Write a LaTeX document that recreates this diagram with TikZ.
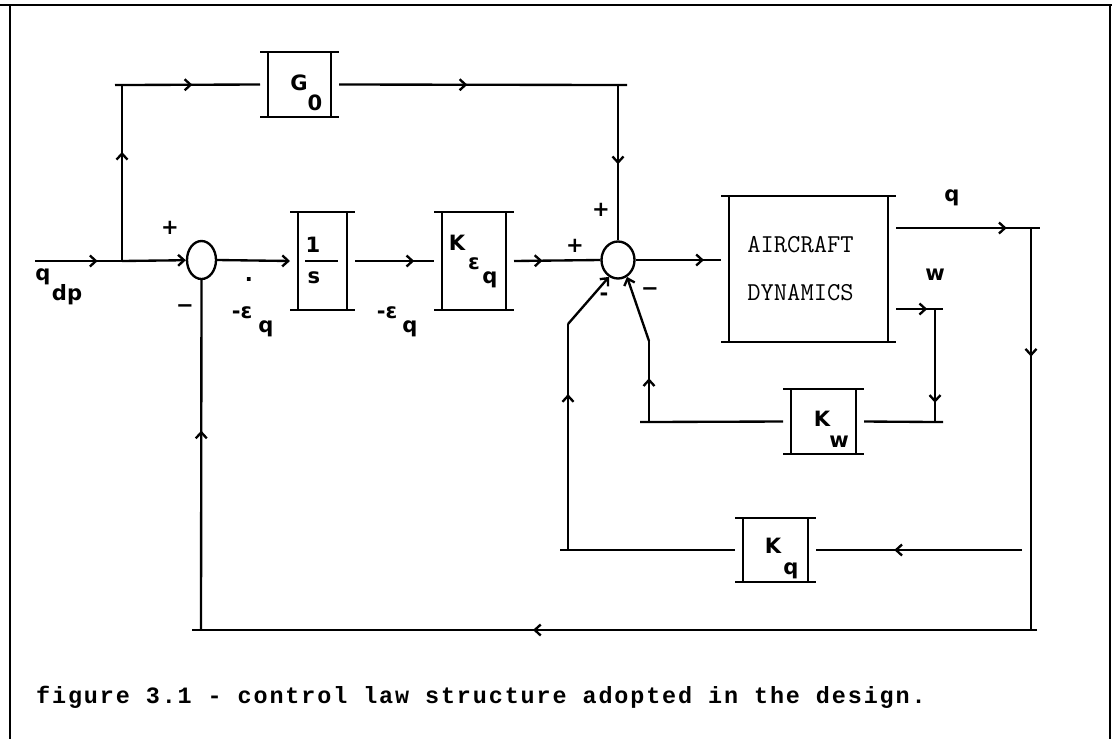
\documentclass[tikz,border=0pt]{standalone}
\usepackage{fontspec}
\usepackage{tikz}
\usetikzlibrary{arrows.meta}
\usetikzlibrary{shapes.geometric}
\usetikzlibrary{decorations.markings}
\newfontfamily\sigfont{DejaVu Sans}
\newfontfamily\capfont[LetterSpace=8]{Liberation Mono}

\begin{document}
\begin{tikzpicture}[
    x=0.3mm, y=-0.3mm,
    line width=2pt,
    blk/.style={
        inner sep=0pt,
        outer xsep=2.4mm,
        outer ysep=0pt
    },
    sumj/.style={
        draw,
        ellipse,
        inner sep=0pt
    },
    sig/.style={
        font=\sigfont\bfseries\fontsize{18}{21}\selectfont,
        inner sep=0pt
    },
    acfont/.style={
        font=\ttfamily\addfontfeature{LetterSpace=10}\fontsize{22}{26}\selectfont,
        inner sep=0pt
    },
    arr/.style={
        -{Straight Barb[length=1.8mm,width=3.3mm]}
    },
    flow/.style={
        postaction={decorate},
        decoration={markings,
            mark=at position #1 with {\arrow{Straight Barb[length=1.8mm,width=3.3mm]}}}
    }
]
\useasboundingbox (0,0) rectangle (1112,739);

% Frame
\draw (0,5) -- (1112,5);
\draw (10,5) -- (10,739);
\draw (1110,5) -- (1110,739);

% Blocks
\node[blk, minimum width=18.9mm, minimum height=19.5mm] (go) at (299.5,84.5) {};
\node[blk, minimum width=14.7mm, minimum height=29.4mm] (integ) at (322.5,261) {};
\node[blk, minimum width=19.2mm, minimum height=29.4mm] (kerr) at (474,261) {};
\node[blk, minimum width=47.7mm, minimum height=43.8mm] (ac) at (808.5,269) {};
\node[blk, minimum width=19.5mm, minimum height=19.5mm] (kw) at (823.5,421.5) {};
\node[blk, minimum width=19.5mm, minimum height=19.2mm] (kq) at (775.5,550) {};

\foreach \b in {go,integ,kerr,ac,kw,kq} {
    \draw (\b.north west) -- (\b.north east);
    \draw (\b.south west) -- (\b.south east);
    \draw ([xshift=2.4mm]\b.north west) -- ([xshift=2.4mm]\b.south west);
    \draw ([xshift=-2.4mm]\b.north east) -- ([xshift=-2.4mm]\b.south east);
}

% Summing junctions
\node[sumj, minimum width=8.7mm, minimum height=11.4mm] (s1) at (201.5,260) {};
\node[sumj, minimum width=9.9mm, minimum height=11.1mm] (s2) at (618,260) {};

% Branch points
\coordinate (in) at (35,261);
\coordinate (br) at (122,261);
\coordinate (tl) at (122,85);
\coordinate (tr) at (618,85);
\coordinate (qc) at (1031,228);
\coordinate (qb) at (1031,630);
\coordinate (bl) at (201,630);
\coordinate (wc) at (935,309);
\coordinate (wb) at (935,422);
\coordinate (kwl) at (649,422);
\coordinate (kwt) at (649,341);
\coordinate (kql) at (568,550);
\coordinate (kqt) at (568,324);
\coordinate (kqr) at (1022,550);

% Forward path
\draw[flow=0.72] (in) -- (br);
\draw[arr] (br) -- (s1);
\draw[flow=0.62] (br) -- (tl);
\draw[flow=0.51, shorten <=-2.1mm] (tl) -- (go.west);
\draw[flow=0.46, shorten >=-2.7mm] (go.east) -- (tr);
\draw[flow=0.51] (tr) -- (s2.north);
\draw[arr] (s1.east) -- (integ.west);
\draw[flow=0.75] (integ.east) -- (kerr.west);
\draw[flow=0.33] (kerr.east) -- (s2.west);
\draw[flow=0.8] (s2.east) -- (s2.east -| ac.west);

% Outputs
\draw[flow=0.82, shorten >=-2.7mm] (ac.east |- qc) -- (qc);
\draw[flow=0.32] (qc) -- (qb);
\draw[flow=0.6, shorten <=-1.8mm, shorten >=-2.7mm] (qb) -- (bl);
\draw[flow=0.57] (bl) -- (s1.south);
\draw[flow=0.8, shorten >=-2.4mm] (ac.east |- wc) -- (wc);
\draw[flow=0.83] (wc) -- (wb);

% Inner loops
\draw[shorten <=-2.4mm] (wb) -- (kw.east);
\draw[shorten >=-2.7mm] (kw.west) -- (kwl);
\draw[flow=0.54] (kwl) -- (kwt);
\draw[arr] (kwt) -- (s2.-62);
\draw[flow=0.62] (kqr) -- (kq.east);
\draw[shorten >=-2.4mm] (kq.west) -- (kql);
\draw[flow=0.69] (kql) -- (kqt);
\draw[arr] (kqt) -- (s2.-118);

% Labels
\node[sig] (qin) at (43,277) {q};
\node[sig] (qinsub) at (67,295) {dp};
\node[sig] (p1) at (170,228) {+};
\node[sig] (m1) at (185,309) {−};
\node[sig] (dotc) at (249,280) {.};
\node[sig] (e1) at (242,313) {-ε};
\node[sig] (e1q) at (266,329) {q};
\node[sig] (e2) at (387,313) {-ε};
\node[sig] (e2q) at (410,329) {q};
\node[sig] (gk) at (299,83) {G};
\node[sig] (gks) at (315,103) {0};
\node[sig] (one) at (313,245) {1};
\node[sig] (ess) at (314,278) {s};
\draw ([xshift=-5.25mm]integ.center) -- ([xshift=4.65mm]integ.center);
\node[sig] (kek) at (457,243) {K};
\node[sig] (kee) at (474,264) {ε};
\node[sig] (keqs) at (490,280) {q};
\node[sig] (p2) at (575,246) {+};
\node[sig] (p3) at (601,210) {+};
\node[sig] (m2) at (604,297) {-};
\node[sig] (m3) at (650,292) {−};
\node[acfont] (acl1) at (800.5,245) {AIRCRAFT};
\node[acfont] (acl2) at (800.5,293) {DYNAMICS};
\node[sig] (qout) at (952,198) {q};
\node[sig] (wout) at (935,275) {w};
\node[sig] (kwk) at (822,419) {K};
\node[sig] (kws) at (839,442) {w};
\node[sig] (kqk) at (773,546) {K};
\node[sig] (kqs) at (791,571) {q};

% Caption
\node[font=\capfont\bfseries\fontsize{20}{24}\selectfont, inner sep=0pt, anchor=west]
    (cap) at (35,697) {figure 3.1 - control law structure adopted in the design.};

\end{tikzpicture}
\end{document}
